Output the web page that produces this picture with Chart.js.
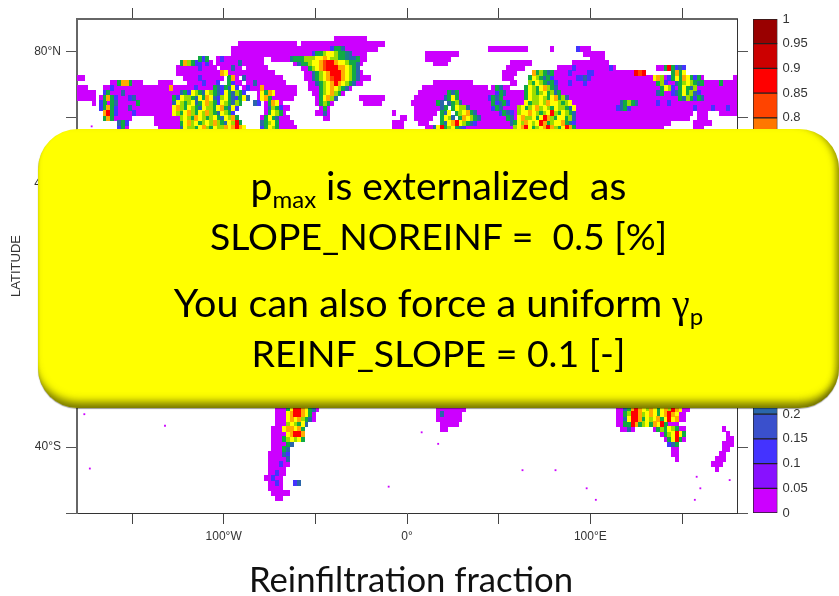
<!DOCTYPE html>
<html>
<head>
<meta charset="utf-8">
<title>Reinfiltration fraction</title>
<script src="https://cdn.jsdelivr.net/npm/chart.js@4"></script>
<style>
  html, body { margin: 0; padding: 0; background: #fff; }
  #page { position: relative; width: 839px; height: 596px; overflow: hidden; }
  canvas { position: absolute; top: 0; }
  #note {
    position: absolute; left: 38px; top: 129px; width: 801px; height: 279px;
    background: #ffff00; border-radius: 40px;
    box-shadow: inset 0 -11px 8px -5px rgba(60,60,0,.7), inset -8px 0 7px -5px rgba(60,60,0,.55), inset 3px 0 3px -3px rgba(60,60,0,.2), 0 1px 1px rgba(0,0,0,.4);
    font-family: Lato, sans-serif; color: #000;
  }
  #note div { position: absolute; left: 0; width: 100%; text-align: center; line-height: 44px; white-space: pre; }
  #note sub { font-size: 24px; line-height: 0; vertical-align: -8px; }
  #note .gamma { font-family: "Liberation Serif", serif; }
  #caption { position: absolute; left: 0; width: 822px; top: 558px; text-align: center; font: 34.7px Lato, sans-serif; color: #111; }
</style>
</head>
<body>
<div id="page">
  <canvas id="map" width="839" height="596" style="left:0"></canvas>
  <canvas id="bar" width="100" height="596" style="left:739px"></canvas>
  <div id="note">
    <div style="top:34px;font-size:39px">p<sub>max</sub> is externalized  as</div>
    <div style="top:85px;font-size:37.4px">SLOPE_NOREINF =  0.5 [%]</div>
    <div style="top:151px;font-size:39.5px">You can also force a uniform <span class="gamma">γ</span><sub>p</sub></div>
    <div style="top:202px;font-size:37.4px">REINF_SLOPE = 0.1 [-]</div>
  </div>
  <div id="caption">Reinfiltration fraction</div>
</div>
<script>
'use strict';

// colour bar, bottom to top
const levelValues = [0, 0.05, 0.1, 0.15, 0.2, 0.25, 0.3, 0.35, 0.4, 0.45, 0.5, 0.55, 0.6, 0.65, 0.7, 0.75, 0.8, 0.85, 0.9, 0.95];
const levelColors = ['#cc00ff', '#8811ff', '#4433ff', '#3a50cc', '#2a66aa', '#1b7f88', '#119966', '#11aa44', '#33bb22', '#66cc11',
  '#99dd00', '#ccee00', '#ffff00', '#ffdd00', '#ffaa00', '#ff7700', '#ff4400', '#ff0000', '#cc0000', '#990000'];

// map cell letter -> index into levelValues
const cellLetters = { P: 0, V: 1, B: 2, N: 4, T: 5, G: 7, L: 10, Y: 12, O: 14, F: 16, R: 17, D: 19 };

const lonTicks = [-150, -100, -50, 0, 50, 100, 150];
const lonLabels = { '-100': '100°W', '0': '0°', '100': '100°E' };
const latTicks = [-60, -40, -20, 0, 20, 40, 60, 80];
const latLabels = { '80': '80°N', '40': '40°N', '0': '0°', '-40': '40°S' };

// Cells are 2 deg wide. A number sets the west edge, a letter paints (count follows), . leaves a gap.
const northLats = [84, 82.5, 81, 79.5, 78, 76.5, 75, 73.5, 72, 70.5, 69, 67.5, 66, 64.5, 63, 61.5, 60, 58.5, 57, 55.5];
const northCells = [
  '-40 P9',
  '-92 P16 -58 P23',
  '-96 P17 -62 P10 B G2 N P9 44 P11 78 P 92 B P3',
  '-96 P12 -72 P10 B G2 L Y2 L G2 T N P4 10 P9 96 P6',
  '-114 G B G -104 P B P4 -92 P7 -74 P5 T G3 L3 Y2 O Y L2 G2 T N2 G P2 10 P7 100 P4',
  '-124 G O L G B B P B P -104 P4 -96 P2 N P6 -62 P N G2 L Y2 O F R2 O Y2 L G2 N P 14 P4 56 P6 90 P10',
  '-126 P6 B P4 -102 P3 N P2 -88 P6 -58 P2 G L Y O F R3 O2 Y L G N 54 P5 82 P4 B P9 B P 136 P2 G R G 146 B N B',
  '-126 P12 -102 O Y P P4 -88 P8 -56 P2 N G L Y O R3 O Y L G N P 52 P4 68 O G L G N G 80 P4 B P4 B2 P11 R F R 144 G O G Y',
  '-180 P2 -122 P4 B P6 -98 G O P -90 N P10 -56 P2 N G L Y O F R2 O Y L G N P3 52 P3 66 G Y L G N G B P 82 P5 B2 N B P16 132 P Y O L P B G Y G O Y G B G P 178 P',
  '-162 P2 G O2 G P3 -136 P4 -120 P4 B P3 B -98 G B P2 -88 P2 N P8 -54 P2 N G L Y O R O Y L G N P2 14 P11 56 P2 66 L G Y L G N G B 82 P3 B P3 B P17 132 P2 G L B P2 N G L Y L G N G P2 166 P2 G P4',
  '-180 P3 -166 P2 B P15 O -128 P6 B P4 G N B G N Y B -90 P B P4 -80 O P9 -54 P3 G L Y O Y L G N P 8 P18 46 P G N P2 64 G Y L G Y O L G N 82 P25 132 P3 G Y L B P G Y G N L P2 162 P9',
  '-180 P5 -166 B G P3 N P13 -128 P2 N G B Y L G N Y L G N B Y G N L G B -82 P Y G O Y P6 -52 P2 G L Y O L G P 6 P8 G N G P10 B G N P5 G Y L G L Y G L N G P24 P2 N G P2 B N G Y G L N B P3 P7',
  '-180 P5 -168 P G O G B P3 B N P10 G B Y L L G N Y G O Y N B L Y G N B G Y N -82 P Y O G P6 -50 P G Y O L N -26 P7 4 P8 N G Y G P8 B G N G P6 G Y L L Y L G Y O G L N P30 G N L G B G N P P8',
  '-172 P -168 B G P G N P5 G P9 N Y L G L Y N G Y O L G B Y L G N L G -84 N B -78 P G O Y P -50 P G L G P -24 P5 2 P7 G N . N G L N P8 G B N G B P4 Y G L L Y L O Y Y L G L Y P13 N G L G N P5 B P2 B P18',
  '-168 B G O G B P3 N P11 Y O L G Y L G N Y L L G Y O G N Y B -78 P N L G B P2 -48 P G P 4 P7 N G . G Y L L N P6 B G N P4 L Y G L Y O L Y L G Y L L G N Y P11 B N G B P17 B P4 B P3 B P2',
  '-166 O R G B P4 B P10 Y L G Y O L G Y L O L G N Y L G B -78 P G Y L G P -50 P2 N P -8 P 4 P6 . G N Y . G L Y O G N P6 B G N B P L Y Y O Y L G L Y R L G Y L G N P32 . P3 . . . P5',
  '-166 G O G P5 -138 P7 L Y L G O Y L G L Y G N Y L O G -80 P G Y G N P3 -46 P2 -4 P2 4 P5 . . G Y L N . G O Y L G N P7 G N P Y O L L Y G Y R O L G Y Y G L N P31 . . P3',
  '-158 N G B -138 P7 G Y O L Y G L Y L O L G N Y L R G -80 N G L Y G P4 -8 P3 6 P3 . . . G N Y O R Y L G N B P9 N G Y L O Y L Y R O G L Y Y O G N B P26 156 P5',
  '-158 B G P -136 P6 N Y L L G Y O L G Y L L O Y O R O Y -80 B G Y L G P5 -8 P3 10 P2 N Y R G L Y G N B P13 L Y O R Y G L Y O R O L G Y R O G P24 156 P3',
  '-136 P8 G Y O L L Y G O L Y L G O L L Y R O -78 G Y L G P5 -6 P2 12 P N Y O G Y L N B P14 O Y R L Y O G R Y L O G Y R G P22 156 P2'
];

const southLats = [-28.5, -30, -31.5, -33, -34.5, -36, -37.5, -39, -40.5, -42, -43.5, -45, -46.5, -48, -49.5, -51, -52.5, -54, -55.5];
const southCells = [
  '-72 P3 G Y R2 O Y G N P 16 P8 114 P2 N G O R O Y L O Y G Y O L R O Y P2',
  '-72 P3 Y O R2 O Y G P 16 P N P5 114 P2 G L R2 O L Y O Y G Y O R O Y P2',
  '-72 P3 Y O Y O L G N P 16 P7 114 P2 N Y R2 O G Y L Y O G Y R Y O P2',
  '-72 P3 L Y L G Y N 18 P5 114 P2 G G R O G L Y G O Y R G P3',
  '-74 P3 Y O2 Y O G 18 P2 116 P2 N P 134 P G L G Y L G P2 172 P',
  '-74 P4 Y O R2 O 138 P G L Y R Y G 174 P',
  '-74 P3 G L Y L Y G 140 P G Y R G P 174 P2',
  '-74 P4 G N 142 B N G 172 P3',
  '-74 P3 G N 144 P2 172 P2',
  '-76 P4 N B 144 P2 170 P2',
  '-76 P5 N 146 P 168 P3',
  '-76 P3 B P2 166 P3',
  '-76 P5 168 P',
  '-76 P2 B P2',
  '-78 P2 B P2',
  '-76 P2 B P -62 B N',
  '-76 P4',
  '-74 P5',
  '-72 P2'
];

// single-pixel islands
const islandLons = [-172, -176, -132, -173, 8, 17, 63, 81, 98, 103, 142, 158, 160, 176, 157, -10];
const islandLats = [57.4, -30, -33.5, -46.5, -35.5, -39, -47, -47, -52.5, -56, -31, -49, -52.5, -50, -56, -52];

function cellPoints(lats, rows) {
  const byLevel = levelColors.map(() => []);
  rows.forEach((row, r) => {
    let lon = -180;
    row.split(' ').forEach(tok => {
      if (!tok) return;
      if (/^-?\d+$/.test(tok)) { lon = Number(tok); return; }
      const n = tok.length > 1 ? Number(tok.slice(1)) : 1;
      for (let i = 0; i < n; i++) {
        if (tok[0] !== '.') byLevel[cellLetters[tok[0]]].push({ x: lon + 1, y: lats[r] });
        lon += 2;
      }
    });
  });
  return byLevel;
}

function cellStyle(color) {
  const c = document.createElement('canvas');
  c.width = 4;
  c.height = 6;
  const g = c.getContext('2d');
  g.fillStyle = color;
  g.fillRect(0, 0, 4, 6);
  return c;
}

const north = cellPoints(northLats, northCells);
const south = cellPoints(southLats, southCells);

const datasets = [];
// first dataset paints on top, so the hot colours go first
for (let i = levelColors.length - 1; i >= 0; i--) {
  datasets.push({
    data: north[i].concat(south[i]),
    pointStyle: cellStyle(levelColors[i]),
    pointRadius: 3,
    showLine: false,
  });
}
datasets.push({
  data: islandLons.map((x, i) => ({ x, y: islandLats[i] })),
  pointStyle: 'rect',
  pointRadius: 1.3,
  backgroundColor: '#cc00ff',
  borderWidth: 0,
  showLine: false,
});

const tickFont = { family: 'Liberation Sans', size: 12 };
const fixWidth = w => scale => { scale.width = w; };
const fixHeight = h => scale => { scale.height = h; };

new Chart(document.getElementById('map'), {
  type: 'scatter',
  data: { datasets },
  options: {
    responsive: false,
    animation: false,
    events: [],
    plugins: { legend: { display: false }, tooltip: { enabled: false } },
    layout: { padding: 0 },
    scales: {
      x: {
        position: 'bottom', min: -180, max: 180,
        afterFit: fixHeight(83),
        afterBuildTicks: ax => { ax.ticks = lonTicks.map(value => ({ value })); },
        border: { color: '#333', width: 1 },
        grid: { drawOnChartArea: false, tickLength: 11, color: '#444', tickWidth: 1 },
        ticks: { autoSkip: false, maxRotation: 0, padding: 5, color: '#333', font: tickFont, callback: v => lonLabels[v] || '' },
      },
      xTop: {
        position: 'top', axis: 'x', type: 'linear', min: -180, max: 180,
        afterFit: fixHeight(19),
        afterBuildTicks: ax => { ax.ticks = lonTicks.map(value => ({ value })); },
        border: { color: '#666', width: 2 },
        grid: { drawOnChartArea: false, tickLength: 11, color: '#444', tickWidth: 1 },
        ticks: { display: false },
      },
      y: {
        position: 'left', min: -60, max: 90,
        afterFit: fixWidth(77),
        afterBuildTicks: ax => { ax.ticks = latTicks.map(value => ({ value })); },
        border: { color: '#666', width: 2 },
        grid: { drawOnChartArea: false, tickLength: 11, color: '#555', tickWidth: 1 },
        title: { display: true, text: 'LATITUDE', color: '#333', font: { family: 'Liberation Sans', size: 13 }, padding: { top: 9, bottom: 0 } },
        ticks: { autoSkip: false, padding: 5, color: '#333', font: tickFont, callback: v => latLabels[v] || '' },
      },
      yRight: {
        position: 'right', axis: 'y', type: 'linear', min: -60, max: 90,
        afterFit: fixWidth(102),
        afterBuildTicks: ax => { ax.ticks = latTicks.map(value => ({ value })); },
        border: { color: '#333', width: 1 },
        grid: { drawOnChartArea: false, tickLength: 11, color: '#555', tickWidth: 1 },
        ticks: { display: false },
      },
    },
  },
});

new Chart(document.getElementById('bar'), {
  type: 'bar',
  data: {
    labels: [''],
    datasets: levelValues.map((v, i) => ({
      data: [[v, v + 0.05]],
      backgroundColor: levelColors[i],
      borderColor: '#222',
      borderWidth: 1,
      borderSkipped: false,
      barPercentage: 1,
      categoryPercentage: 1,
      grouped: false,
    })),
  },
  options: {
    responsive: false,
    animation: false,
    events: [],
    plugins: { legend: { display: false }, tooltip: { enabled: false } },
    layout: { padding: { left: 14, top: 19, bottom: 83 } },
    scales: {
      x: { display: false },
      y: {
        position: 'right', min: 0, max: 1,
        afterFit: fixWidth(61.5),
        afterBuildTicks: ax => { ax.ticks = levelValues.concat([1]).map(value => ({ value })); },
        border: { display: false },
        grid: { display: false, drawTicks: false },
        ticks: { autoSkip: false, padding: 5, color: '#333', font: { family: 'Liberation Sans', size: 13 }, callback: v => String(Math.round(v * 100) / 100) },
      },
    },
  },
});
</script>
</body>
</html>
